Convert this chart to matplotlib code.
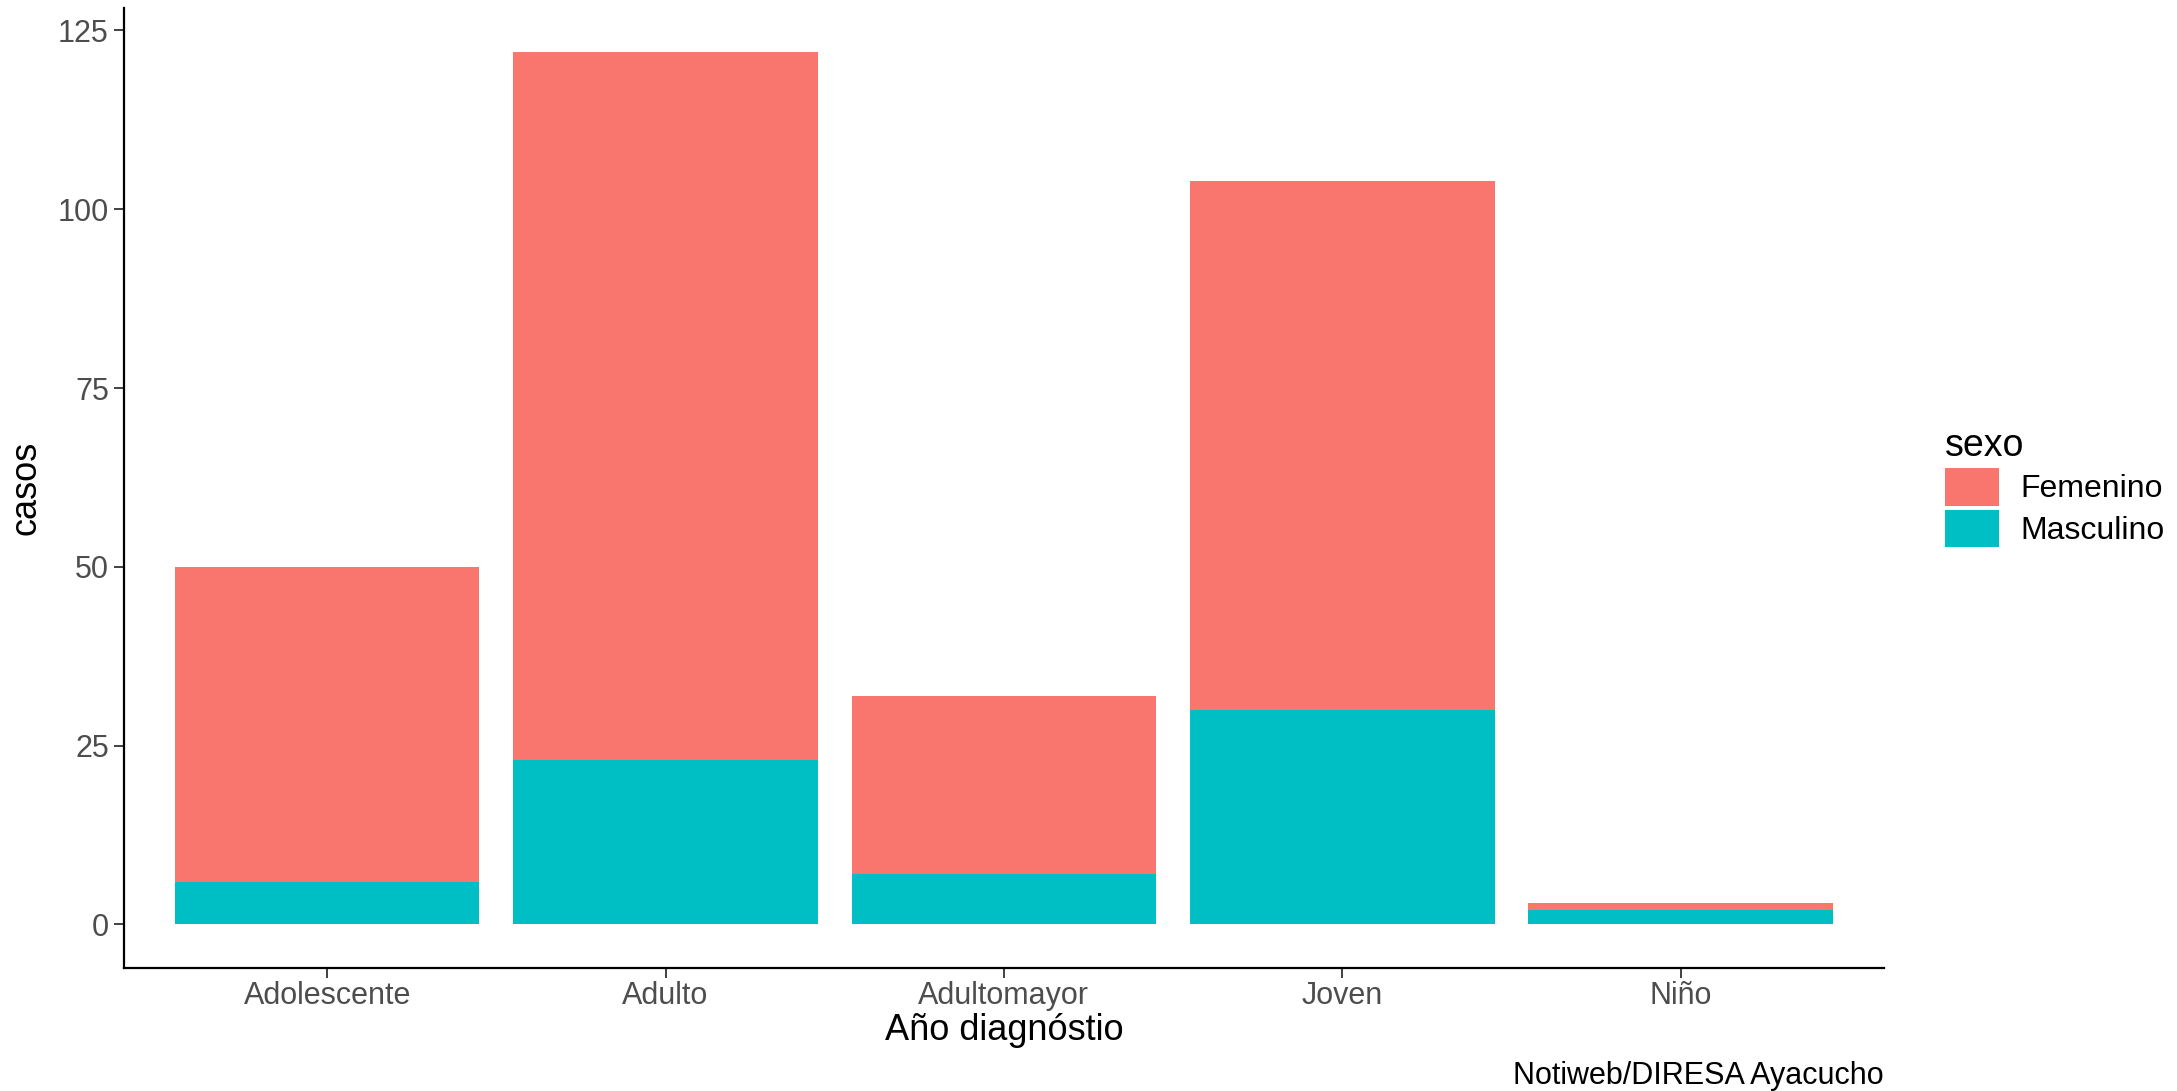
import matplotlib
matplotlib.use("Agg")
import matplotlib.pyplot as plt
from matplotlib.patches import Patch
import numpy as np

# datos
categorias = ["Adolescente", "Adulto", "Adultomayor", "Joven", "Niño"]
femenino = [44, 99, 25, 74, 1]
masculino = [6, 23, 7, 30, 2]
y_ticks = [0, 25, 50, 75, 100, 125]

col_fem = "#F8766D"
col_mas = "#00BFC4"

plt.rcParams["font.family"] = ["Liberation Sans", "DejaVu Sans"]

fig = plt.figure(figsize=(21.77, 10.91), dpi=100)
ax = fig.add_axes([0.057, 0.1127, 0.8083, 0.8797])

x = np.arange(len(categorias))
ax.bar(x, masculino, width=0.9, color=col_mas, linewidth=0)
ax.bar(x, femenino, width=0.9, bottom=masculino, color=col_fem, linewidth=0)

total = np.array(femenino) + np.array(masculino)
top = total.max()
ax.set_xlim(-0.6, len(categorias) - 0.4)
ax.set_ylim(-0.05 * top, top * 1.05)

ax.set_xticks(x)
ax.set_xticklabels(categorias)
ax.set_yticks(y_ticks)

for side in ["top", "right"]:
    ax.spines[side].set_visible(False)
for side in ["left", "bottom"]:
    ax.spines[side].set_linewidth(1.6)
    ax.spines[side].set_color("black")

ax.tick_params(axis="both", length=7, width=1.3, color="#333333",
               labelcolor="#4D4D4D", labelsize=22, pad=4)
ax.tick_params(axis="x", pad=2)

ax.set_xlabel("Año diagnóstio", fontsize=26, color="black", labelpad=2)
ax.set_ylabel("casos", fontsize=26, color="black", labelpad=10)

handles = [Patch(facecolor=col_fem, edgecolor="none", label="Femenino"),
           Patch(facecolor=col_mas, edgecolor="none", label="Masculino")]
leg = fig.legend(handles=handles, title="sexo", loc="center left",
                 bbox_to_anchor=(0.8875, 0.553), frameon=False,
                 fontsize=23, title_fontsize=27,
                 handlelength=1.7, handleheight=1.45,
                 labelspacing=0.12, handletextpad=0.65, borderaxespad=0)
leg._legend_box.align = "left"

fig.text(0.8654, 0.014, "Notiweb/DIRESA Ayacucho", ha="right", va="center",
         fontsize=22, color="black")

fig.savefig("out.png", dpi=100)
